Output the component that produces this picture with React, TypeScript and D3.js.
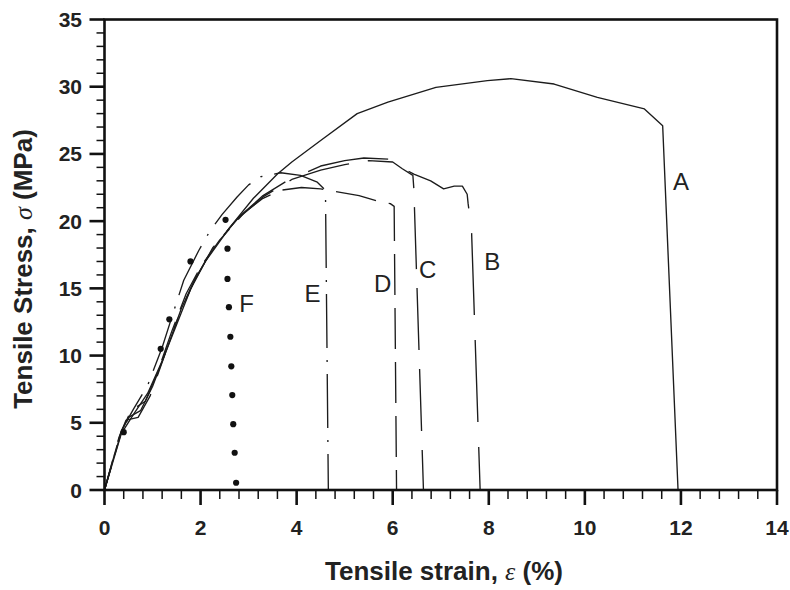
import React from "react";
import * as d3 from "d3";

type P = [number, number];

// strain (%) , stress (MPa)
const curveA: P[] = [[0,0],[0.35,4.2],[0.6,5.6],[0.9,7.2],[1.2,9.6],[1.5,12.3],[1.8,15.0],[2.1,17.0],[2.6,19.5],[3.1,21.7],[3.6,23.5],[3.9,24.4],[4.5,26.0],[5.26,28.0],[5.9,28.85],[6.9,29.95],[7.97,30.45],[8.46,30.6],[9.36,30.2],[10.26,29.2],[11.24,28.35],[11.62,27.1],[11.94,0]];
const curveB: P[] = [[0,0],[0.3,3.8],[0.5,5.4],[0.75,5.9],[1.0,7.7],[1.3,10.5],[1.6,13.5],[1.9,15.8],[2.3,18.2],[2.8,20.3],[3.3,21.9],[3.8,23.0],[4.5,24.1],[5.0,24.5],[5.4,24.7],[6.02,24.6],[6.13,24.1],[6.44,23.5],[6.79,23.0],[7.06,22.4],[7.28,22.6],[7.45,22.6],[7.55,22.0],[7.57,21.3],[7.64,19.4],[7.82,0]];
const curveC: P[] = [[0,0],[0.3,3.9],[0.45,5.2],[0.7,5.4],[0.95,7.0],[1.25,10.0],[1.55,13.0],[1.85,15.4],[2.25,18.0],[2.75,20.1],[3.3,21.8],[3.9,23.1],[4.5,23.8],[5.0,24.2],[5.5,24.5],[6.0,24.4],[6.2,23.9],[6.42,23.4],[6.44,22.4],[6.64,0]];
const curveD: P[] = [[0,0],[0.35,4.3],[0.55,5.9],[0.85,6.6],[1.1,8.7],[1.4,11.8],[1.7,14.6],[2.0,16.6],[2.4,18.6],[2.9,20.6],[3.3,21.7],[3.67,22.3],[4.1,22.5],[4.5,22.4],[4.81,22.2],[5.3,21.9],[5.68,21.5],[5.95,21.3],[6.03,21.1],[6.08,0]];
const curveE: P[] = [[0,0],[0.35,4.4],[0.6,6.0],[0.9,7.8],[1.2,10.6],[1.45,13.4],[1.65,15.6],[1.96,17.8],[2.2,19.3],[2.45,20.5],[2.76,21.8],[3.0,22.7],[3.25,23.3],[3.67,23.6],[4.08,23.4],[4.43,22.9],[4.6,22.3],[4.66,0]];
const curveF: P[] = [[0.4,4.3],[1.17,10.5],[1.35,12.7],[1.79,17.0],[2.52,20.1],[2.56,17.95],[2.56,15.7],[2.59,13.6],[2.62,11.4],[2.64,9.2],[2.66,7.06],[2.68,4.9],[2.71,2.77],[2.74,0.54]];

const curveNames = ["A", "B", "C", "D", "E", "F"];
const labelX = [12.0, 8.07, 6.73, 5.79, 4.33, 2.96];
const labelY = [22.29, 16.35, 15.75, 14.75, 14.0, 13.26];

const xMajorTicks = [0, 2, 4, 6, 8, 10, 12, 14];
const yMajorTicks = [0, 5, 10, 15, 20, 25, 30, 35];
const xMinorStep = 0.4;
const yMinorStep = 1;

export default function App() {
  const W = 790, H = 590;
  const x = d3.scaleLinear().domain([0, 14]).range([104.5, 777]);
  const y = d3.scaleLinear().domain([0, 35]).range([490, 19.5]);
  const line = d3.line<P>().x(d => x(d[0])).y(d => y(d[1]));

  const xMinor = d3.range(0, 14.0001, xMinorStep).filter(v => Math.abs(v / 2 - Math.round(v / 2)) > 1e-6);
  const yMinor = d3.range(0, 35.0001, yMinorStep).filter(v => v % 5 !== 0);

  const stroke = "#1c1c1c";
  const sw = 1.35;
  // drawn from the fracture end so the dash pattern lines up as in the figure
  const series = [
    { d: curveA, dash: undefined, off: 0 },
    { d: curveB, dash: "82 25", off: 39 },
    { d: curveC, dash: "62 19", off: 22 },
    { d: curveD, dash: "41 13", off: 21 },
    { d: curveE, dash: "54 12 2 12", off: 18 },
  ];

  const font = "'Liberation Sans', Arial, Helvetica, sans-serif";

  return (
    <svg width={W} height={H} style={{ position: "absolute", left: 0, top: 0, background: "#fff" }}>
      <rect x={0} y={0} width={W} height={H} fill="#fff" />
      {series.map((s, i) => (
        <path key={i} d={line([...s.d].reverse()) || ""} fill="none" stroke={stroke} strokeWidth={sw}
          strokeDasharray={s.dash} strokeDashoffset={s.off} strokeLinejoin="round" />
      ))}
      {curveF.map((p, i) => (
        <circle key={i} cx={x(p[0])} cy={y(p[1])} r={3.1} fill="#111" />
      ))}
      {curveNames.map((n, i) => (
        <text key={n} x={x(labelX[i])} y={y(labelY[i])} textAnchor="middle" fontFamily={font} fontSize={24} fill="#222">{n}</text>
      ))}
      {/* frame */}
      <rect x={x(0)} y={y(35)} width={x(14) - x(0)} height={y(0) - y(35)} fill="none" stroke="#111" strokeWidth={2.6} />
      {/* x ticks */}
      {xMajorTicks.map(v => (
        <g key={"xm" + v}>
          <line x1={x(v)} x2={x(v)} y1={y(0)} y2={y(0) + 15} stroke="#111" strokeWidth={2.6} />
          <text x={x(v)} y={535} textAnchor="middle" fontFamily={font} fontWeight="bold" fontSize={21} fill="#222">{v}</text>
        </g>
      ))}
      {xMinor.map(v => (
        <line key={"xn" + v} x1={x(v)} x2={x(v)} y1={y(0)} y2={y(0) + 9} stroke="#111" strokeWidth={1.5} />
      ))}
      {/* y ticks */}
      {yMajorTicks.map(v => (
        <g key={"ym" + v}>
          <line x1={x(0) - 15} x2={x(0)} y1={y(v)} y2={y(v)} stroke="#111" strokeWidth={2.6} />
          <text x={82} y={y(v) + 7.5} textAnchor="end" fontFamily={font} fontWeight="bold" fontSize={21} fill="#222">{v}</text>
        </g>
      ))}
      {yMinor.map(v => (
        <line key={"yn" + v} x1={x(0) - 8} x2={x(0)} y1={y(v)} y2={y(v)} stroke="#111" strokeWidth={1.5} />
      ))}
      {/* axis titles */}
      <text x={444} y={580} textAnchor="middle" fontFamily={font} fontWeight="bold" fontSize={26} fill="#222">
        Tensile strain, <tspan fontFamily="'Liberation Serif', serif" fontStyle="italic" fontWeight="normal">ε</tspan> (%)
      </text>
      <text transform="translate(32,269) rotate(-90)" textAnchor="middle" fontFamily={font} fontWeight="bold" fontSize={26} fill="#222">
        Tensile Stress, <tspan fontFamily="'Liberation Serif', serif" fontStyle="italic" fontWeight="normal">σ</tspan> (MPa)
      </text>
    </svg>
  );
}
